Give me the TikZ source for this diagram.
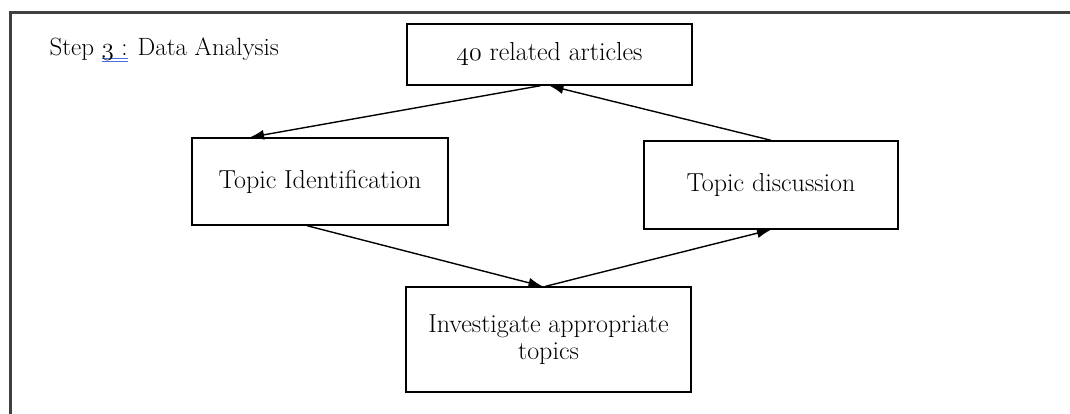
\RequirePackage{fix-cm}
\documentclass[tikz,border=0pt]{standalone}
\usepackage{fontspec}
\setmainfont{Latin Modern Roman}
\usepackage{tikz}
\usetikzlibrary{arrows.meta}

\definecolor{spellblue}{RGB}{70,110,220}

% old-style figures and blue spell-check mark
\newcommand{\osf}[1]{{\usefont{OML}{cmm}{m}{it}#1}}
\newcommand{\spellmark}[1]{\setbox0\hbox{#1}\rlap{\textcolor{spellblue}{\rule[-4pt]{\wd0}{1.2pt}\hskip-\wd0\rule[-7pt]{\wd0}{1.2pt}}}#1}

\tikzset{
  stepbox/.style={draw, line width=1.4pt, align=center, inner sep=0pt,
    font=\fontsize{26}{27}\selectfont},
  flow/.style={line width=1.4pt, -{Latex[length=14pt,width=10pt]}}
}

\begin{document}
\begin{tikzpicture}[x=1pt,y=-1pt]
\useasboundingbox (0,0) rectangle (1070,414);

% Frame
\draw[line width=3pt, black!75] (1070,13) -- (10,13) -- (10,414);

% Title
\node[anchor=west, font=\fontsize{25}{27}\selectfont] (title) at (46,50)
  {Step \spellmark{\osf{3} :} Data Analysis};

% Boxes
\node[stepbox, minimum width=285pt, minimum height=61pt] (arts) at (549.5,54.5)
  {\osf{40} related articles};
\node[stepbox, minimum width=256pt, minimum height=87pt] (ident) at (320,181.5)
  {Topic Identification};
\node[stepbox, minimum width=254pt, minimum height=88pt] (disc) at (771,185)
  {Topic discussion};
\node[stepbox, minimum width=285pt, minimum height=105pt] (inv) at (548.5,339.5)
  {Investigate appropriate\\topics};

% Cycle
\draw[flow] ([xshift=-9pt]arts.south) -- ([xshift=-70pt]ident.north);
\draw[flow] ([xshift=-13pt]ident.south) -- ([xshift=-6pt]inv.north);
\draw[flow] ([xshift=-3pt]inv.north) -- (disc.south);
\draw[flow] (disc.north) -- (arts.south);
\end{tikzpicture}
\end{document}
